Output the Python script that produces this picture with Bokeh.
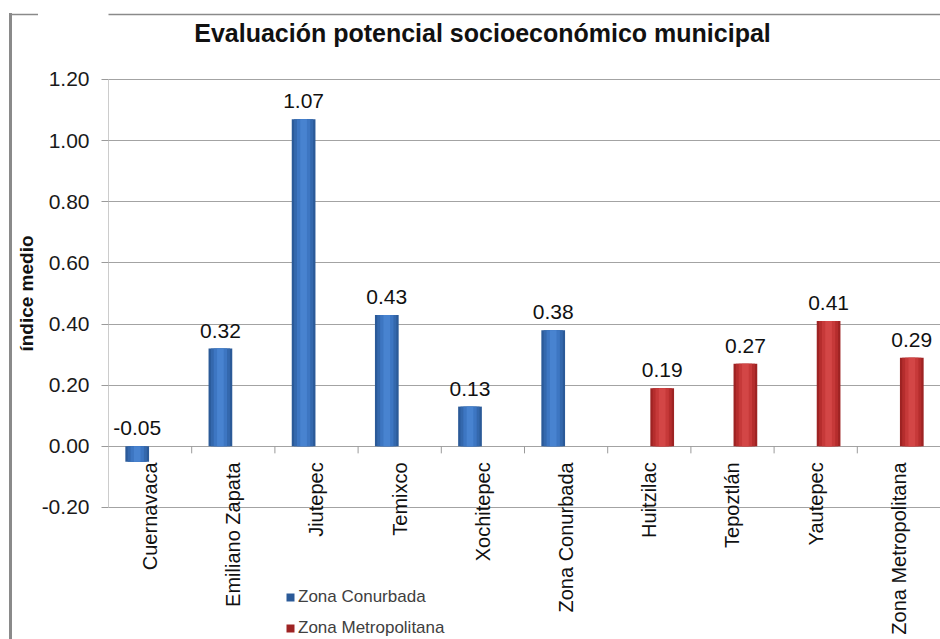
import math

from bokeh.core.properties import value
from bokeh.embed import file_html
from bokeh.layouts import row
from bokeh.models import (ColumnDataSource, FactorRange, FixedTicker, Label,
                          LabelSet, Legend, LegendItem, NumeralTickFormatter,
                          PolyAnnotation, Range1d)
from bokeh.plotting import figure
from bokeh.resources import INLINE
from bokeh.transform import dodge

# ---- data -----------------------------------------------------------------
municipios_conurbada = ["Cuernavaca", "Emiliano Zapata", "Jiutepec", "Temixco",
                        "Xochitepec", "Zona Conurbada"]
valores_conurbada = [-0.05, 0.32, 1.07, 0.43, 0.13, 0.38]

municipios_metropolitana = ["Huitzilac", "Tepoztlán", "Yautepec", "Zona Metropolitana"]
valores_metropolitana = [0.19, 0.27, 0.41, 0.29]

categorias = municipios_conurbada + municipios_metropolitana
y_ticks = [-0.2, 0.0, 0.2, 0.4, 0.6, 0.8, 1.0, 1.2]

FONT = "Liberation Sans"
BORDER = "#8a8a8a"
HEIGHT = 639
SIDE_W = 38

y_range = Range1d(-0.6318, 1.4584)

# ---- narrow strip on the left: chart border and the y-axis title -----------
side = figure(
    width=SIDE_W, height=HEIGHT, x_range=Range1d(0, SIDE_W), y_range=y_range,
    output_backend="svg", toolbar_location=None,
    x_axis_location=None, y_axis_location=None,
    min_border=0,
)
side.outline_line_color = None
side.grid.grid_line_color = None
# left edge of the chart border (thin filled strip)
side.add_layout(PolyAnnotation(
    xs=[8.5, 11.5, 11.5, 8.5], ys=[-30, -30, HEIGHT - 12.5, HEIGHT - 12.5],
    xs_units="screen", ys_units="screen",
    fill_color=BORDER, fill_alpha=1, line_color=None,
))
# top edge of the chart border over the strip
side.add_layout(PolyAnnotation(
    xs=[8.5, SIDE_W + 5, SIDE_W + 5, 8.5],
    ys=[HEIGHT - 14.75, HEIGHT - 14.75, HEIGHT - 13.25, HEIGHT - 13.25],
    xs_units="screen", ys_units="screen",
    fill_color=BORDER, fill_alpha=1, line_color=None,
))
side.add_layout(Label(
    x=26, y=HEIGHT - 293, x_units="screen", y_units="screen",
    text="índice medio", angle=math.pi / 2,
    text_align="center", text_baseline="middle",
    text_font=FONT, text_font_style="bold", text_font_size="19px", text_color="#111111",
))

# ---- main chart -----------------------------------------------------------
p = figure(
    width=940 - SIDE_W, height=HEIGHT,
    x_range=FactorRange(factors=categorias, range_padding=0),
    y_range=y_range,
    output_backend="svg", toolbar_location=None,
    x_axis_location=None,
    min_border_left=107 - SIDE_W, min_border_right=0, min_border_top=0, min_border_bottom=0,
)
p.outline_line_color = None
p.background_fill_color = "white"
p.border_fill_color = "white"

# y axis
yax = p.yaxis[0]
yax.ticker = FixedTicker(ticks=y_ticks)
yax.formatter = NumeralTickFormatter(format="0.00")
yax.major_label_text_font = FONT
yax.major_label_text_font_size = "21px"
yax.major_label_text_color = "#1a1a1a"
yax.major_label_standoff = 12
yax.major_tick_out = 7
yax.major_tick_in = 0
yax.major_tick_line_color = "#9a9a9a"
yax.minor_tick_line_color = None
yax.axis_line_color = None

p.xgrid.grid_line_color = None
p.ygrid.ticker = FixedTicker(ticks=y_ticks)
p.ygrid.grid_line_color = "#a3a3a3"
p.ygrid.grid_line_width = 1

# vertical axis line limited to the tick span
axis_src = ColumnDataSource(dict(cat=[categorias[0]], y0=[y_ticks[0]], y1=[y_ticks[-1]]))
p.segment(x0=dodge("cat", -0.5, range=p.x_range), y0="y0",
          x1=dodge("cat", -0.5, range=p.x_range), y1="y1",
          source=axis_src, line_color="#9a9a9a", line_width=1)

# category tick marks hanging from the zero line
tick_src = ColumnDataSource(dict(cat=categorias, y=[0.0] * len(categorias)))
p.ray(x=dodge("cat", 0.5, range=p.x_range), y="y", length=7, length_units="screen",
      angle=-math.pi / 2, source=tick_src, line_color="#9a9a9a", line_width=1)

# top edge of the chart border across the main panel
p.add_layout(PolyAnnotation(
    xs=[-120, 900, 900, -120],
    ys=[HEIGHT - 14.75, HEIGHT - 14.75, HEIGHT - 13.25, HEIGHT - 13.25],
    xs_units="screen", ys_units="screen",
    fill_color=BORDER, fill_alpha=1, line_color=None,
))


# ---- bars (layered to give a cylindrical shading) -------------------------
def draw_series(cats, vals, offset, shades):
    src = ColumnDataSource(dict(cat=cats, top=vals, bottom=[0.0] * len(vals)))
    x = dodge("cat", offset, range=p.x_range)
    widths = [0.285, 0.23, 0.16, 0.08]
    base = None
    for w, c in zip(widths, shades):
        r = p.vbar(x=x, top="top", bottom="bottom", width=w, source=src,
                   fill_color=c, line_color=None)
        if base is None:
            base = r
    return base


blue_shades = ["#2b5a98", "#3468ad", "#3d76c2", "#4883d0"]
red_shades = ["#9e2323", "#b52d2d", "#c63939", "#d34646"]

bars_c = draw_series(municipios_conurbada, valores_conurbada, -0.155, blue_shades)
bars_m = draw_series(municipios_metropolitana, valores_metropolitana, 0.155, red_shades)

# ---- value labels ---------------------------------------------------------
for cats, vals, offset in [(municipios_conurbada, valores_conurbada, -0.155),
                           (municipios_metropolitana, valores_metropolitana, 0.155)]:
    lsrc = ColumnDataSource(dict(
        cat=cats,
        y=[max(v, 0.0) for v in vals],
        txt=[f"{v:.2f}" for v in vals],
    ))
    p.add_layout(LabelSet(
        x=dodge("cat", offset, range=p.x_range), y="y", text="txt", source=lsrc,
        y_offset=11, text_align="center", text_baseline="alphabetic",
        text_font=value(FONT), text_font_size="21px", text_color="#111111",
    ))

# ---- rotated category names below the zero line ---------------------------
cat_src = ColumnDataSource(dict(cat=categorias, y=[0.0] * len(categorias)))
p.add_layout(LabelSet(
    x="cat", y="y", text="cat", source=cat_src,
    y_offset=-16, angle=math.pi / 2, text_align="right", text_baseline="middle",
    text_font=value(FONT), text_font_size="20px", text_color="#111111",
))

# ---- title ----------------------------------------------------------------
p.add_layout(Label(
    x=481 - 107, y=HEIGHT - 32, x_units="screen", y_units="screen",
    text="Evaluación potencial socioeconómico municipal",
    text_align="center", text_baseline="middle",
    text_font=FONT, text_font_style="bold", text_font_size="25px", text_color="#111111",
))

# ---- legend ---------------------------------------------------------------
legend = Legend(
    items=[LegendItem(label="Zona Conurbada", renderers=[bars_c]),
           LegendItem(label="Zona Metropolitana", renderers=[bars_m])],
    location=(177, 1), orientation="vertical",
    glyph_width=10, glyph_height=10, label_standoff=3,
    label_height=10, spacing=11, padding=0, margin=0,
    label_text_font=FONT, label_text_font_size="17px", label_text_color="#404040",
    border_line_color=None, background_fill_alpha=0,
)
p.add_layout(legend)

layout = row(side, p, spacing=0)
open("out.html", "w").write(file_html(layout, INLINE))
